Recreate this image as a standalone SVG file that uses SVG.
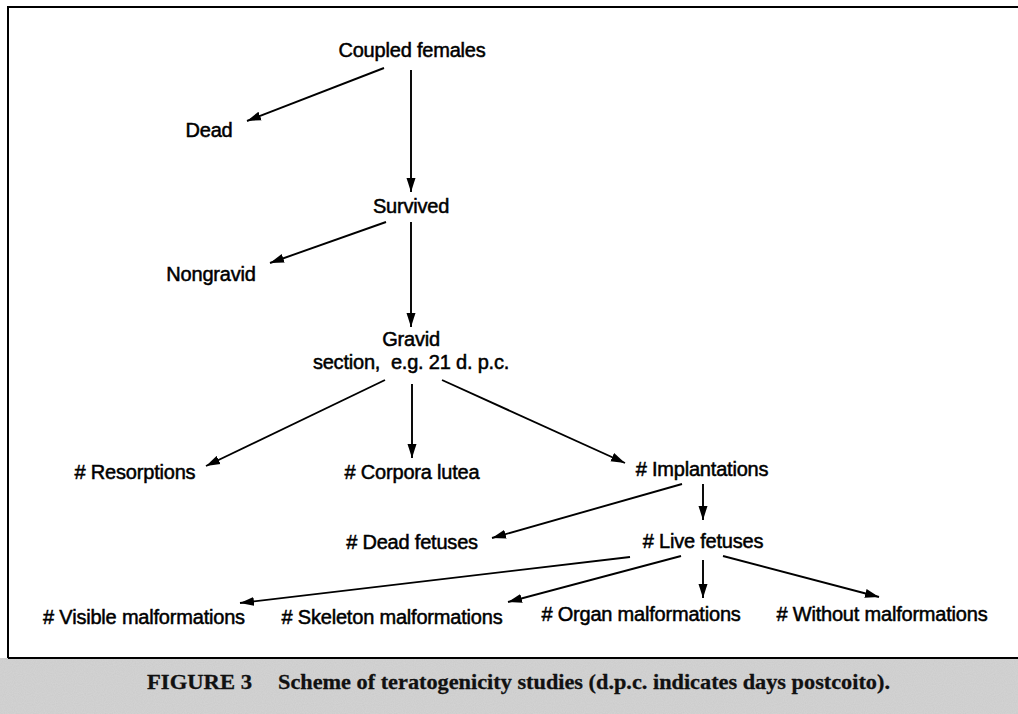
<svg xmlns="http://www.w3.org/2000/svg" width="1018" height="714" viewBox="0 0 1018 714">
<style>
.lbl{font-family:"Liberation Sans",Arial,Helvetica,sans-serif;font-size:20px;fill:#000;stroke:#000;stroke-width:0.5;text-anchor:middle;letter-spacing:-0.2px}
.cap{font-family:"Liberation Serif","Times New Roman",serif;font-size:21px;font-weight:bold;fill:#111;stroke:#111;stroke-width:0.3}
.edge{stroke:#000;stroke-width:1.9;fill:none;marker-end:url(#ah)}
.frame{stroke:#000;stroke-width:2;fill:none}
</style>
<defs>
<marker id="ah" markerUnits="userSpaceOnUse" markerWidth="15" markerHeight="10" refX="14" refY="5" orient="auto">
<path d="M0,0.5 L14,5 L0,9.5 z" fill="#000"/>
</marker>
<filter id="noise" x="0" y="0" width="100%" height="100%">
<feTurbulence type="fractalNoise" baseFrequency="0.9" numOctaves="1" seed="3" result="n"/>
<feColorMatrix in="n" type="matrix" values="0 0 0 0 0.55  0 0 0 0 0.55  0 0 0 0 0.55  0 0 0 -1.6 1.1"/>
</filter>
</defs>
<rect x="0" y="0" width="1018" height="714" fill="#fff"/>
<g id="caption">
<rect x="0" y="658" width="1018" height="56" fill="#d2d2d2"/>
<rect x="0" y="658" width="1018" height="56" filter="url(#noise)" opacity="0.5"/>
<text class="cap" x="147" y="689" textLength="105" lengthAdjust="spacingAndGlyphs">FIGURE 3</text>
<text class="cap" x="278" y="689" textLength="612" lengthAdjust="spacingAndGlyphs">Scheme of teratogenicity studies (d.p.c. indicates days postcoito).</text>
</g>
<g id="frame">
<line class="frame" x1="8" y1="7" x2="1018" y2="7"/>
<line class="frame" x1="8" y1="6" x2="8" y2="658"/>
<line class="frame" x1="8" y1="658" x2="1018" y2="658"/>
</g>
<g id="connectors">
<line class="edge" x1="411" y1="70" x2="411" y2="192"/>
<line class="edge" x1="384" y1="68" x2="247" y2="121"/>
<line class="edge" x1="386" y1="222" x2="270" y2="263"/>
<line class="edge" x1="411" y1="222" x2="411" y2="327"/>
<line class="edge" x1="385" y1="380" x2="206" y2="466"/>
<line class="edge" x1="412" y1="384" x2="412" y2="458"/>
<line class="edge" x1="442" y1="380" x2="625" y2="463"/>
<line class="edge" x1="682" y1="484" x2="492" y2="538"/>
<line class="edge" x1="703" y1="484" x2="703" y2="520"/>
<line class="edge" x1="630" y1="557" x2="240" y2="603"/>
<line class="edge" x1="681" y1="556" x2="508" y2="602"/>
<line class="edge" x1="703" y1="560" x2="703" y2="598"/>
<line class="edge" x1="723" y1="556" x2="879" y2="597"/>
</g>
<g id="n-coupled"><text class="lbl" x="412" y="57">Coupled females</text></g>
<g id="n-dead"><text class="lbl" x="209" y="137">Dead</text></g>
<g id="n-survived"><text class="lbl" x="411" y="213">Survived</text></g>
<g id="n-nongravid"><text class="lbl" x="211" y="281">Nongravid</text></g>
<g id="n-gravid"><text class="lbl" x="411" y="346">Gravid</text><text class="lbl" x="411" y="369" xml:space="preserve">section,  e.g. 21 d. p.c.</text></g>
<g id="n-resorptions"><text class="lbl" x="135" y="479"># Resorptions</text></g>
<g id="n-corpora"><text class="lbl" x="412" y="479"># Corpora lutea</text></g>
<g id="n-implantations"><text class="lbl" x="702" y="476"># Implantations</text></g>
<g id="n-deadfetuses"><text class="lbl" x="412" y="549"># Dead fetuses</text></g>
<g id="n-livefetuses"><text class="lbl" x="703" y="548"># Live fetuses</text></g>
<g id="n-visible"><text class="lbl" x="144" y="624"># Visible malformations</text></g>
<g id="n-skeleton"><text class="lbl" x="392" y="624"># Skeleton malformations</text></g>
<g id="n-organ"><text class="lbl" x="641" y="621"># Organ malformations</text></g>
<g id="n-without"><text class="lbl" x="882" y="621"># Without malformations</text></g>
</svg>
